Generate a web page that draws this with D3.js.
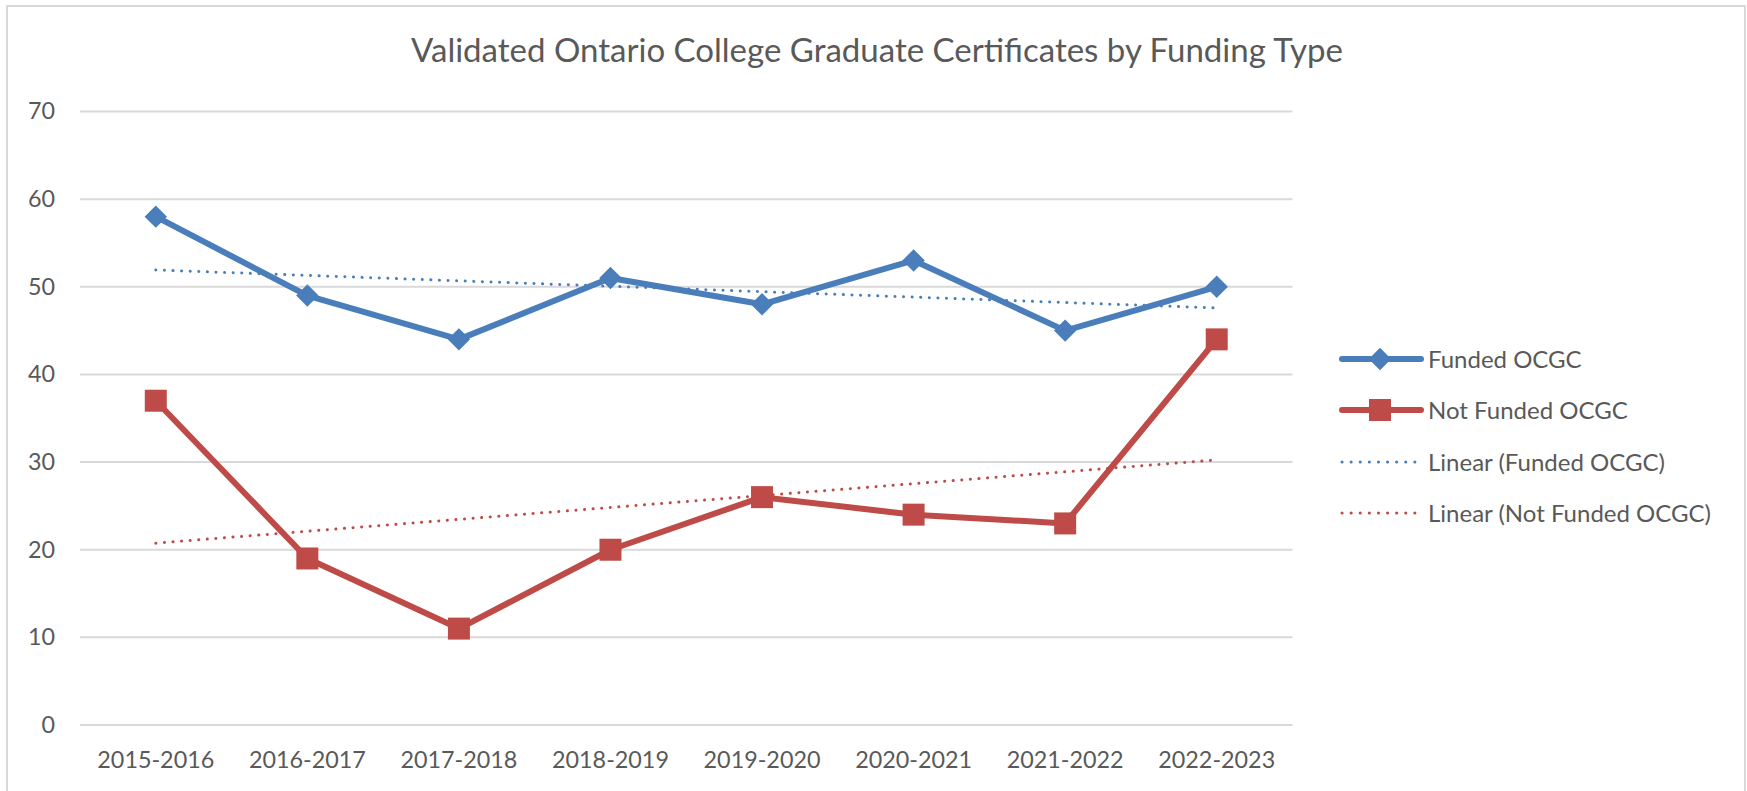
<!DOCTYPE html>
<html>
<head>
<meta charset="utf-8">
<script src="https://cdn.jsdelivr.net/npm/d3@7"></script>
<style>
  body { margin: 0; background: #fff; }
  svg text { font-family: Lato, "Open Sans", sans-serif; fill: #595959; }
</style>
</head>
<body>
<svg id="chart" width="1747" height="791"></svg>
<script>
(function() {
  var years = ["2015-2016", "2016-2017", "2017-2018", "2018-2019",
               "2019-2020", "2020-2021", "2021-2022", "2022-2023"];
  var funded = [58, 49, 44, 51, 48, 53, 45, 50];
  var notFunded = [37, 19, 11, 20, 26, 24, 23, 44];
  var yTicks = [0, 10, 20, 30, 40, 50, 60, 70];
  var seriesNames = ["Funded OCGC", "Not Funded OCGC",
                     "Linear (Funded OCGC)", "Linear (Not Funded OCGC)"];

  var blue = "#4a7ebb", red = "#be4b48", grid = "#d9d9d9";

  var svg = d3.select("#chart");

  // scale a text's font so its first node spans the wanted width
  function fitSize(node, width) {
    var base = 20;
    node.style.fontSize = base + "px";
    return base * width / node.getComputedTextLength();
  }

  // outer chart frame (bottom is cut off in the original)
  svg.append("rect")
    .attr("x", 7).attr("y", 6).attr("width", 1738).attr("height", 820)
    .attr("fill", "none").attr("stroke", grid).attr("stroke-width", 2);

  var title = svg.append("text")
    .attr("x", 877).attr("y", 62)
    .attr("text-anchor", "middle")
    .text("Validated Ontario College Graduate Certificates by Funding Type");
  title.style("font-size", fitSize(title.node(), 932) + "px");

  var x = d3.scaleBand().domain(years).range([80, 1292.5]);
  var y = d3.scaleLinear().domain([0, 70]).range([725, 111.5]);

  // gridlines
  svg.append("g").selectAll("line")
    .data(yTicks)
    .enter().append("line")
    .attr("x1", 80).attr("x2", 1292.5)
    .attr("y1", function(d) { return y(d); })
    .attr("y2", function(d) { return y(d); })
    .attr("stroke", grid).attr("stroke-width", 2);

  var xAxis = svg.append("g")
    .attr("transform", "translate(0,725)")
    .call(d3.axisBottom(x).tickSize(0).tickPadding(0));
  xAxis.select(".domain").remove();
  var axisFont = fitSize(xAxis.select("text").node(), 117);
  xAxis.selectAll("text")
    .style("font-size", axisFont + "px").attr("fill", "#595959")
    .attr("dy", null).attr("y", 43);

  var yAxis = svg.append("g")
    .attr("transform", "translate(80,0)")
    .call(d3.axisLeft(y).tickValues(yTicks).tickSize(0).tickPadding(25));
  yAxis.select(".domain").remove();
  yAxis.selectAll("text").style("font-size", axisFont + "px").attr("fill", "#595959");

  function cx(i) { return x(years[i]) + x.bandwidth() / 2; }

  // least-squares trend, as the spreadsheet does
  function trend(vals) {
    var n = vals.length, mx = (n + 1) / 2, my = d3.mean(vals), sxy = 0, sxx = 0;
    vals.forEach(function(v, i) { sxy += (i + 1 - mx) * v; sxx += (i + 1 - mx) * (i + 1 - mx); });
    var b = sxy / sxx, a = my - b * mx;
    return [a + b, a + b * n];
  }

  function drawTrend(vals, color) {
    var t = trend(vals);
    svg.append("line")
      .attr("x1", cx(0)).attr("y1", y(t[0]))
      .attr("x2", cx(vals.length - 1)).attr("y2", y(t[1]))
      .attr("stroke", color).attr("stroke-width", 3)
      .attr("stroke-linecap", "round").attr("stroke-dasharray", "0.1 8.5");
  }
  drawTrend(funded, blue);
  drawTrend(notFunded, red);

  var line = d3.line()
    .x(function(d, i) { return cx(i); })
    .y(function(d) { return y(d); });

  svg.append("path").datum(funded)
    .attr("d", line).attr("fill", "none")
    .attr("stroke", blue).attr("stroke-width", 6).attr("stroke-linejoin", "round");
  svg.append("path").datum(notFunded)
    .attr("d", line).attr("fill", "none")
    .attr("stroke", red).attr("stroke-width", 6).attr("stroke-linejoin", "round");

  var diamond = d3.symbol().type(d3.symbolDiamond2).size(320);
  var square = d3.symbol().type(d3.symbolSquare).size(484);

  svg.append("g").selectAll("path")
    .data(funded).enter().append("path")
    .attr("d", diamond)
    .attr("transform", function(d, i) { return "translate(" + cx(i) + "," + y(d) + ")"; })
    .attr("fill", blue);
  svg.append("g").selectAll("path")
    .data(notFunded).enter().append("path")
    .attr("d", square)
    .attr("transform", function(d, i) { return "translate(" + cx(i) + "," + y(d) + ")"; })
    .attr("fill", red);

  // legend
  var legendY = [359, 410, 462, 513];
  var lg = svg.append("g");
  var labels = [];
  seriesNames.forEach(function(name, i) {
    var color = i % 2 === 0 ? blue : red;
    var row = lg.append("g").attr("transform", "translate(0," + legendY[i] + ")");
    if (i < 2) {
      row.append("line").attr("x1", 1342).attr("x2", 1421)
        .attr("stroke", color).attr("stroke-width", 6).attr("stroke-linecap", "round");
      row.append("path").attr("d", i === 0 ? diamond : square)
        .attr("transform", "translate(1380,0)").attr("fill", color);
    } else {
      row.append("line").attr("x1", 1342).attr("x2", 1415)
        .attr("stroke", color).attr("stroke-width", 3)
        .attr("stroke-linecap", "round").attr("stroke-dasharray", "0.1 9");
    }
    labels.push(row.append("text").attr("x", 1428).attr("y", 0)
      .attr("dy", "0.36em")
      .text(name));
  });
  var legendFont = fitSize(labels[3].node(), 283);
  labels.forEach(function(t) { t.style("font-size", legendFont + "px"); });
})();
</script>
</body>
</html>
